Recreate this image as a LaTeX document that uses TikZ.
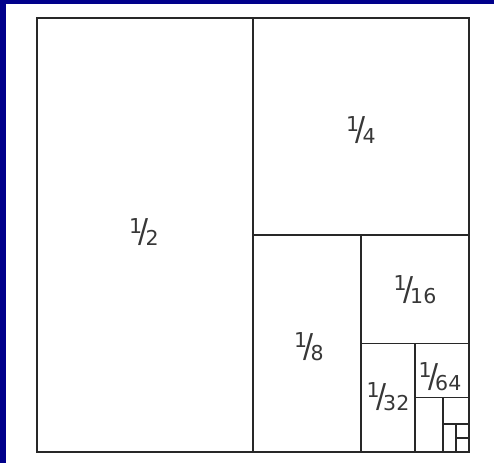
\documentclass[tikz,border=0pt]{standalone}
\usepackage{fontspec}
\setmainfont{DejaVu Sans}
\usepackage{graphicx}
\definecolor{bgblue}{RGB}{0,0,139}
\definecolor{inkline}{RGB}{40,40,40}
\definecolor{inktext}{RGB}{55,55,55}
\newcommand{\slashfrac}[2]{\raisebox{0.32em}{#1}\kern-0.16em\raisebox{-0.16em}{\scalebox{1.45}[1.6]{/}}\kern-0.16em\raisebox{-0.3em}{#2}}
\begin{document}
\begin{tikzpicture}[x={(1pt,0)},y={(0,-1pt)},
  partline/.style={draw=inkline,line width=1.8pt},
  fraclabel/.style={font=\fontsize{20.5}{22}\selectfont,text=inktext,inner sep=0pt}]
\useasboundingbox (0,0) rectangle (494,463);
\fill[white] (0,0) rectangle (494,463);
\fill[bgblue] (0,0) rectangle (494,4);
\fill[bgblue] (0,0) rectangle (6,463);
% outer square
\coordinate (tl) at (37,18);
\coordinate (br) at (469,452);
\draw[partline] (tl) rectangle (br);
\draw[partline] (253,18) -- (253,452);
\draw[partline] (253,235) -- (469,235);
\draw[partline] (361,235) -- (361,452);
\draw[partline] (361,343.5) -- (469,343.5);
\draw[partline] (415,343.5) -- (415,452);
\draw[partline] (415,397.5) -- (469,397.5);
\draw[partline] (443,397.5) -- (443,452);
\draw[partline] (443,424) -- (469,424);
\draw[partline] (456,424) -- (456,452);
\draw[partline] (456,438) -- (469,438);
% labels
\node[fraclabel] (half) at (144,232) {\slashfrac{1}{2}};
\node[fraclabel] (quarter) at (361,130) {\slashfrac{1}{4}};
\node[fraclabel] (eighth) at (309,347) {\slashfrac{1}{8}};
\node[fraclabel] (sixteenth) at (415,290) {\slashfrac{1}{16}};
\node[fraclabel] (thirtysecond) at (388,397) {\slashfrac{1}{32}};
\node[fraclabel] (sixtyfourth) at (440,377) {\slashfrac{1}{64}};
\end{tikzpicture}
\end{document}
